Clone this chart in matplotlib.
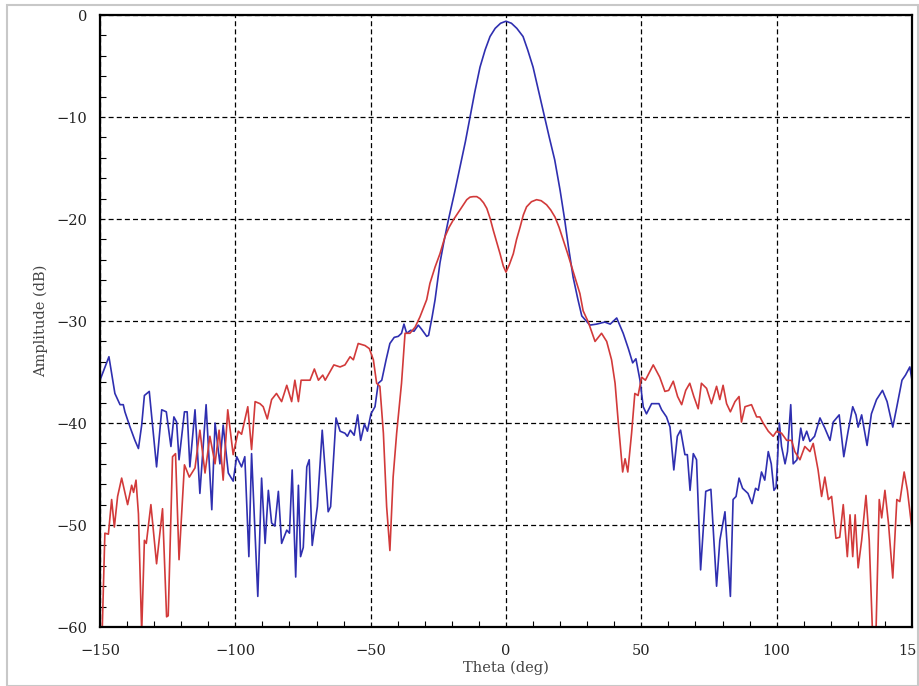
import numpy as np
import matplotlib.pyplot as plt
from matplotlib.patches import Rectangle
from matplotlib.ticker import MultipleLocator

# sum pattern (blue)
blue_x = [-150, -146.7, -144.5, -142.6, -141.4, -140.8, -138.9, -137.1, -135.8, -134.6,
          -133.6, -131.8, -129.1, -127.2, -125.5, -123.8, -122.7, -121.7, -120.8, -118.8,
          -117.8, -116.8, -114.9, -113.1, -110.8, -108.7, -107.5, -105.7, -104.5, -102.6,
          -100.8, -99.5, -97.7, -96.5, -95.0, -94.0, -91.7, -90.3, -89.0, -87.8,
          -86.6, -85.4, -84.1, -82.9, -81.0, -80.0, -79.0, -77.7, -76.7, -75.9,
          -74.9, -73.6, -72.7, -71.6, -69.7, -67.9, -65.7, -64.8, -62.8, -61.3,
          -59.5, -58.6, -57.5, -56.1, -54.8, -53.7, -52.3, -51.2, -49.9, -48.4,
          -47.2, -45.9, -44.3, -42.9, -41.3, -39.8, -38.6, -37.7, -36.7, -35.2,
          -34.0, -32.4, -31.2, -29.3, -28.6, -27.3, -26.2, -24.4, -23.0, -21.3,
          -19.0, -17.0, -15.0, -13.3, -11.5, -9.6, -7.7, -5.9, -4.0, -2.0,
          0.0, 2.0, 4.0, 6.3, 8.0, 10.0, 12.0, 14.3, 16.0, 18.0,
          20.0, 21.7, 23.0, 24.8, 26.5, 28.0, 31.0, 33.5, 36.5, 38.5,
          40.9, 43.3, 45.2, 46.8, 48.0, 49.5, 50.7, 51.9, 53.8, 56.5,
          57.5, 59.3, 60.6, 62.0, 63.3, 64.5, 66.1, 67.0, 68.0, 69.2,
          70.4, 71.9, 73.8, 75.7, 77.8, 79.0, 80.9, 82.9, 83.9, 85.0,
          86.1, 87.4, 89.4, 90.9, 92.2, 93.2, 94.4, 95.6, 96.9, 98.0,
          99.0, 99.8, 101.0, 101.8, 103.1, 104.0, 105.2, 106.1, 107.5, 108.9,
          109.8, 111.1, 112.3, 114.0, 116.0, 117.8, 119.7, 120.9, 123.1, 124.8,
          126.4, 128.1, 129.3, 130.1, 131.4, 133.4, 135.0, 136.9, 139.1, 140.8,
          142.9, 144.4, 146.3, 147.6, 149.2, 150.0]
blue_y = [-35.8, -33.5, -37.1, -38.2, -38.2, -38.9, -40.4, -41.7, -42.5, -40.2,
          -37.3, -36.9, -44.3, -38.7, -38.9, -42.3, -39.4, -39.9, -43.6, -38.9,
          -38.9, -44.3, -38.7, -46.9, -38.2, -48.5, -40.0, -44.0, -40.2, -44.9,
          -45.7, -43.3, -44.3, -43.3, -53.1, -43.0, -57.0, -45.4, -51.8, -46.6,
          -49.8, -50.1, -46.7, -51.8, -50.5, -50.8, -44.6, -55.1, -46.1, -53.1,
          -52.2, -44.3, -43.6, -52.0, -48.2, -40.7, -48.7, -48.2, -39.5, -40.8,
          -41.0, -41.3, -40.7, -41.2, -39.2, -41.7, -40.1, -40.8, -39.1, -38.4,
          -36.1, -35.8, -33.8, -32.2, -31.6, -31.5, -31.2, -30.3, -31.2, -30.9,
          -31.0, -30.4, -30.8, -31.5, -31.4, -29.6, -27.9, -24.3, -22.3, -20.1,
          -17.4, -14.9, -12.4, -10.0, -7.5, -5.1, -3.4, -2.1, -1.3, -0.8,
          -0.6, -0.8, -1.3, -2.1, -3.4, -5.1, -7.4, -10.0, -12.0, -14.2,
          -17.2, -20.1, -22.6, -25.7, -27.8, -29.5, -30.4, -30.3, -30.1, -30.3,
          -29.7, -31.2, -32.7, -34.1, -33.7, -35.8, -38.4, -39.1, -38.1, -38.1,
          -38.7, -39.4, -40.4, -44.6, -41.3, -40.7, -43.1, -43.1, -46.6, -43.0,
          -43.6, -54.4, -46.7, -46.5, -56.0, -51.5, -48.7, -57.0, -47.5, -47.2,
          -45.4, -46.4, -46.9, -47.9, -46.4, -46.6, -44.8, -45.6, -42.8, -44.0,
          -46.6, -46.3, -40.0, -42.3, -44.0, -42.8, -38.2, -44.0, -43.6, -40.5,
          -41.7, -40.8, -41.8, -41.3, -39.5, -40.5, -41.7, -39.9, -39.2, -43.3,
          -40.8, -38.4, -39.2, -40.4, -39.2, -42.2, -39.1, -37.7, -36.8, -37.9,
          -40.4, -38.4, -35.8, -35.3, -34.5, -35.8]

# difference pattern (red)
red_x = [-149.2, -148.2, -146.9, -145.7, -144.7, -143.5, -142.0, -139.8, -138.3, -137.6,
         -136.7, -135.8, -134.6, -133.6, -132.9, -131.2, -129.1, -126.9, -125.4, -124.8,
         -123.2, -122.1, -120.8, -118.8, -117.0, -114.9, -113.1, -111.2, -109.4, -107.5,
         -106.0, -104.5, -102.8, -100.8, -98.9, -97.7, -95.4, -94.0, -92.7, -90.9,
         -89.7, -88.2, -86.6, -84.8, -82.9, -81.0, -79.2, -78.0, -76.7, -75.7,
         -72.4, -70.8, -69.3, -67.7, -66.8, -63.6, -61.3, -59.5, -57.6, -56.4,
         -54.6, -52.1, -50.5, -49.0, -47.8, -46.6, -45.3, -44.1, -42.9, -41.7,
         -40.4, -38.6, -37.3, -35.5, -33.6, -31.8, -29.3, -28.1, -26.2, -24.4,
         -22.5, -21.0, -19.5, -17.0, -14.5, -13.3, -12.1, -10.8, -9.6, -8.3,
         -7.1, -5.9, -4.7, -3.4, -2.2, -1.0, 0.0, 1.2, 2.7, 3.9,
         5.2, 6.4, 7.6, 9.4, 11.3, 13.0, 15.0, 16.5, 18.1, 19.6,
         21.2, 22.8, 24.3, 27.3, 28.5, 30.4, 32.9, 35.3, 37.2, 39.0,
         40.3, 41.5, 43.1, 44.0, 45.0, 46.4, 47.6, 48.8, 50.1, 51.5,
         54.4, 56.8, 58.7, 60.1, 61.8, 63.4, 64.9, 66.4, 67.9, 69.4,
         71.0, 72.2, 74.1, 75.9, 77.8, 79.0, 80.2, 81.5, 82.9, 84.6,
         86.1, 87.0, 88.3, 90.7, 92.6, 93.8, 95.0, 96.9, 98.7, 100.0,
         101.8, 103.7, 105.5, 106.7, 108.6, 110.4, 112.3, 113.5, 115.3, 116.6,
         117.8, 119.1, 120.3, 121.9, 123.3, 124.6, 126.1, 127.1, 128.1, 129.0,
         130.1, 131.4, 133.0, 134.2, 135.4, 136.7, 137.9, 138.8, 140.0, 141.3,
         142.9, 144.4, 145.5, 147.1, 148.3, 149.9]
red_y = [-60.5, -50.8, -50.9, -47.5, -50.2, -47.2, -45.4, -48.0, -46.1, -46.8,
         -45.6, -48.9, -60.5, -51.5, -51.8, -48.0, -53.8, -48.4, -59.0, -58.9,
         -43.3, -43.0, -53.4, -44.1, -45.3, -44.4, -40.7, -44.9, -41.3, -44.0,
         -40.7, -45.6, -38.7, -43.1, -40.8, -41.1, -38.4, -42.6, -37.9, -38.1,
         -38.4, -39.6, -37.7, -37.1, -37.9, -36.3, -37.9, -35.8, -37.9, -35.8,
         -35.8, -34.7, -35.8, -35.3, -35.8, -34.3, -34.5, -34.3, -33.5, -33.8,
         -32.2, -32.4, -32.7, -33.8, -36.1, -36.4, -41.0, -48.2, -52.5, -45.3,
         -41.0, -36.1, -31.2, -31.2, -30.6, -29.6, -27.9, -26.3, -24.7, -23.4,
         -21.7, -20.8, -20.1, -19.1, -18.1, -17.85, -17.8, -17.8, -18.0, -18.4,
         -18.95, -19.9, -21.1, -22.3, -23.4, -24.6, -25.2, -24.5, -23.4, -22.0,
         -20.8, -19.6, -18.8, -18.3, -18.1, -18.2, -18.6, -19.1, -19.8, -20.8,
         -22.1, -23.4, -24.7, -27.3, -29.0, -30.1, -32.0, -31.2, -32.0, -33.8,
         -36.1, -40.0, -44.8, -43.5, -44.8, -41.0, -37.1, -37.3, -35.5, -35.8,
         -34.3, -35.5, -36.9, -36.8, -35.9, -37.4, -38.2, -36.8, -36.1, -37.4,
         -38.6, -36.1, -36.6, -38.1, -36.4, -37.7, -36.3, -38.1, -38.9, -37.9,
         -37.4, -39.9, -38.4, -38.2, -39.4, -39.4, -40.0, -40.8, -41.3, -40.8,
         -41.0, -41.7, -41.7, -42.8, -43.6, -42.3, -42.8, -42.0, -44.6, -47.2,
         -45.3, -47.5, -47.2, -51.3, -51.2, -48.0, -53.1, -49.0, -53.1, -49.0,
         -54.2, -51.5, -47.1, -51.5, -60.5, -60.5, -47.5, -49.3, -46.6, -49.8,
         -55.2, -47.5, -47.7, -44.8, -46.6, -50.2]

x_ticks = [-150, -100, -50, 0, 50, 100, 150]
y_ticks = [0, -10, -20, -30, -40, -50, -60]

fig = plt.figure(figsize=(9.2, 6.86), dpi=100)
fig.patches.append(Rectangle((0.008, 0.0), 0.99, 0.993, transform=fig.transFigure,
                             fill=False, edgecolor='#c8c8c8', linewidth=1.5))
ax = fig.add_axes([0.1087, 0.086, 0.8826, 0.892])

ax.plot(blue_x, blue_y, color='#2f2fb0', linewidth=1.2)
ax.plot(red_x, red_y, color='#d23a3a', linewidth=1.2)

ax.set_xlim(-150, 150)
ax.set_ylim(-60, 0)
ax.set_xticks(x_ticks)
ax.set_yticks(y_ticks)
ax.xaxis.set_minor_locator(MultipleLocator(10))
ax.yaxis.set_minor_locator(MultipleLocator(2))
ax.tick_params(which='both', direction='in', color='black')
ax.tick_params(axis='x', which='major', length=0, pad=12)
ax.tick_params(axis='y', which='major', length=0, pad=9)
ax.tick_params(which='minor', length=4, width=0.8)
for lab in ax.get_xticklabels() + ax.get_yticklabels():
    lab.set_family('DejaVu Serif')
    lab.set_fontsize(10.5)
    lab.set_color('#222222')

ax.grid(True, which='major', color='black', linestyle=(0, (4, 2.5)), linewidth=0.9)
for s in ax.spines.values():
    s.set_linewidth(1.6)

ax.set_xlabel('Theta (deg)', family='DejaVu Serif', fontsize=10.5, labelpad=2, color='#444444')
ax.set_ylabel('Amplitude (dB)', family='DejaVu Serif', fontsize=10.5, labelpad=6, color='#444444')

fig.savefig('out.png', dpi=100)
